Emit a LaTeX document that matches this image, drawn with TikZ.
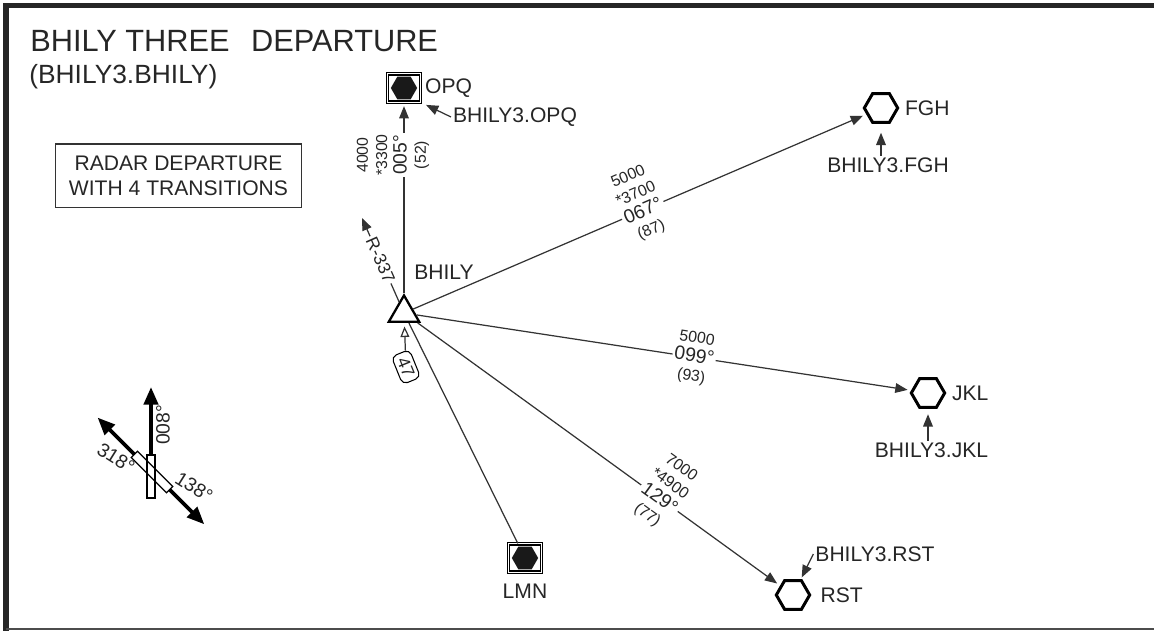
\documentclass[tikz,border=0pt]{standalone}
\usepackage{fontspec}
\setmainfont{Liberation Sans}
\usetikzlibrary{shapes.geometric, arrows.meta, positioning}
\newcommand{\hdgfont}{\fontsize{11}{11}\selectfont}

\begin{document}
\begin{tikzpicture}[
    x=0.02cm, y=-0.02cm,
    every node/.style={text=black!85},
    fix/.style={regular polygon, regular polygon sides=6, draw=black, line width=1.7pt, minimum size=19pt, inner sep=0pt},
    navaid/.style={rectangle, draw=black, line width=0.65pt, double=white, double distance=0.6pt, minimum width=19pt, minimum height=16pt, inner sep=0pt},
    core/.style={regular polygon, regular polygon sides=6, fill=black!90, minimum size=15pt, inner sep=0pt},
    bhilytri/.style={regular polygon, regular polygon sides=3, draw=black, fill=white, line width=1.3pt, minimum size=20pt, inner sep=0pt},
    fixlbl/.style={font=\fontsize{12}{14}\selectfont, inner sep=1pt},
    leg/.style={fill=white, inner sep=1pt, align=center, font=\fontsize{9}{11}\selectfont},
    mileage/.style={draw=black, line width=0.6pt, rounded corners=3pt, minimum width=17pt, minimum height=11pt, inner sep=1pt, font=\fontsize{10}{11}\selectfont},
    route/.style={draw=black!80, line width=0.7pt},
    arrow/.style={route, -{Triangle[length=7pt, width=5.5pt]}, shorten >=2pt},
    openarrow/.style={route, -{Triangle[open, length=6pt, width=5pt]}, shorten >=2pt},
    rwy/.style={draw=black, line width=0.7pt},
    rwyarrow/.style={draw=black, line width=2.2pt, -{Triangle[length=10pt, width=8pt]}},
    rwylabel/.style={font=\fontsize{11}{12}\selectfont, inner sep=1pt}
]
\useasboundingbox (0,0) rectangle (1154,631);

% Frame
\draw[black!85, line width=3pt] (6,631) -- (6,5.5) -- (1154,5.5);
\draw[black!70, line width=1.2pt] (6,629) -- (1154,629);

% Title
\node[anchor=base west, inner sep=0pt, font=\fontsize{17.5}{20}\selectfont] (title) at (30,52) {BHILY THREE\hspace{0.7em}DEPARTURE};
\node[anchor=base west, inner sep=0pt, font=\fontsize{15}{18}\selectfont] (subtitle) at (29,84) {(BHILY3.BHILY)};
\node[draw=black!80, line width=0.6pt, minimum width=140.5pt, minimum height=36.4pt, align=center, font=\fontsize{12}{14.2}\selectfont] (radar) at (178.5,176) {RADAR DEPARTURE\\WITH 4 TRANSITIONS};

% Airport and transition fixes
\node[bhilytri] (bhily) at (404,313) {};
\node[fixlbl] (bhilyname) at (444,272) {BHILY};

\node[navaid] (opq) at (404,88) {};
\node[core] (opqhex) at (opq) {};
\node[fixlbl, right=1pt of opq] (opqname) {OPQ};
\node[fixlbl] (opqtr) at (515,117) {BHILY3.OPQ};

\node[fix] (fgh) at (881,108) {};
\node[fixlbl, right=2pt of fgh] (fghname) {FGH};
\node[fixlbl, below=18pt of fgh, xshift=4pt] (fghtr) {BHILY3.FGH};

\node[fix] (jkl) at (928,393) {};
\node[fixlbl, right=2pt of jkl] (jklname) {JKL};
\node[fixlbl, below=18pt of jkl, xshift=2pt] (jkltr) {BHILY3.JKL};

\node[fix] (rst) at (793,595) {};
\node[fixlbl, right=4pt of rst] (rstname) {RST};
\node[fixlbl] (rsttr) at (875,554) {BHILY3.RST};

\node[navaid] (lmn) at (525,558) {};
\node[core] (lmnhex) at (lmn) {};
\node[fixlbl, below=5pt of lmn] (lmnname) {LMN};

% Routes
\draw[arrow] (bhily) -- (opq);
\draw[arrow] (bhily) -- (fgh);
\draw[arrow] (bhily) -- (jkl);
\draw[arrow] (bhily) -- (rst);
\draw[route] (bhily) -- (lmn);

% Transition pointers
\draw[arrow, shorten >=3pt] (opqtr.west) -- (opq.south east);
\draw[arrow, shorten >=5pt] (fghtr.north -| fgh) -- (fgh);
\draw[arrow, shorten >=3pt] (jkltr.north -| jkl) -- (jkl);
\draw[arrow, shorten >=1pt] (rsttr.west) -- (rst);

% Altitudes, courses and distances
\node[leg, rotate=90] (opqleg) at (393,155) {4000\\*3300\\{\hdgfont 005°}\\(52)};
\node[leg, rotate=23.3] (fghleg) at (640,204) {5000\\*3700\\{\hdgfont 067°}\\(87)};
\node[leg, rotate=-8.7] (jklleg) at (694,358) {5000\\{\hdgfont 099°}\\(93)};
\node[leg, rotate=-35.9] (rstleg) at (664,492) {7000\\*4900\\{\hdgfont 129°}\\(77)};

% Radial and mileage
\coordinate (r337) at (362,218);
\draw[arrow, shorten >=0pt] (bhily) -- node[leg, sloped, font=\fontsize{10}{11}\selectfont] (r337lbl) {R-337} (r337);
\node[mileage, rotate=-68] (dme47) at (406,367) {47};
\draw[openarrow] (dme47) -- (bhily);

% Runways
\begin{scope}[shift={(151,476)}]
  \draw[rwy] (-4,-21) rectangle (4,22);
  \draw[rwyarrow] (0,-21) -- (0,-89);
\end{scope}
\begin{scope}[shift={(152,472)}, rotate=-45]
  \draw[rwy] (-25,-4.5) rectangle (25,4.5);
  \draw[rwyarrow] (-25,0) -- (-77,0);
  \draw[rwyarrow] (25,0) -- (74,0);
\end{scope}
\node[rwylabel, rotate=90] (rwy008) at (163,425) {008°};
\node[rwylabel, rotate=-32] (rwy318) at (116,458) {318°};
\node[rwylabel, rotate=-32] (rwy138) at (194,487) {138°};
\end{tikzpicture}
\end{document}
